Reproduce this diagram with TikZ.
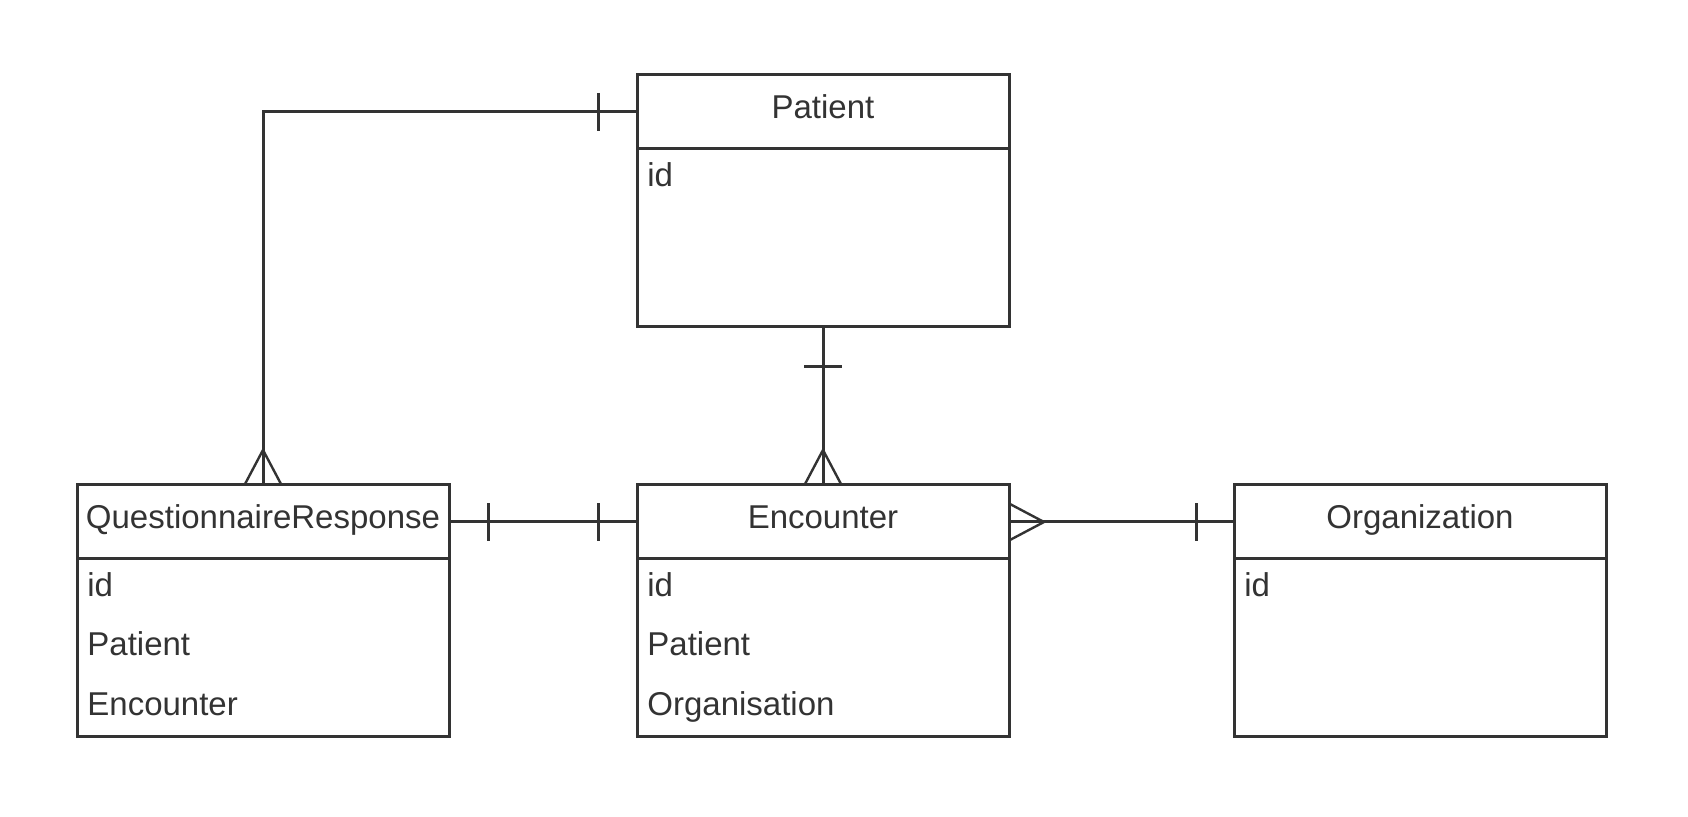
\documentclass[tikz,border=0pt]{standalone}
\usepackage{fontspec}
\setmainfont{Liberation Sans}
\usepackage{xcolor}
\usepackage{tikz}
\usetikzlibrary{positioning, decorations.markings}

\definecolor{erline}{gray}{0.2}

\tikzset{
  entity/.style={draw=erline, line width=1.5pt, rectangle, minimum width=186pt, minimum height=37pt, outer sep=0pt, text=erline, text height=12pt, text depth=5.5pt, font=\fontsize{16.5pt}{20pt}\selectfont},
  entitybody/.style={draw=erline, line width=1.5pt, rectangle, minimum width=186pt, minimum height=89pt, outer sep=0pt},
  fields/.style={anchor=north west, align=left, inner xsep=5pt, inner ysep=6.5pt, text=erline, font=\fontsize{16.5pt}{29.75pt}\selectfont},
  link/.style={draw=erline, line width=1.5pt},
  one start/.style={postaction={decorate, decoration={markings, mark=at position #1 with {\draw[erline, line width=1.5pt] (0,-9.5pt) -- (0,9.5pt);}}}},
  one start/.default=19.5pt,
  one end/.style={postaction={decorate, decoration={markings, mark=at position -#1 with {\draw[erline, line width=1.5pt] (0,-9.5pt) -- (0,9.5pt);}}}},
  one end/.default=19.5pt,
  many start/.style={postaction={decorate, decoration={markings, mark=at position 0.1pt with {\draw[erline, line width=1.2pt] (-0.1pt,9.25pt) -- (17.4pt,0) -- (-0.1pt,-9.25pt);}}}},
  many end/.style={postaction={decorate, decoration={markings, mark=at position -0.1pt with {\draw[erline, line width=1.2pt] (0.1pt,9.25pt) -- (-17.4pt,0) -- (0.1pt,-9.25pt);}}}}
}

\begin{document}
\begin{tikzpicture}
    \useasboundingbox (0,0) rectangle (844pt,-408.5pt);

    % entities
    \node[entity] (patient) at (411.5pt,-56pt) {Patient};
    \node[entitybody, below=0pt of patient] (patientbody) {};
    \node[fields] (patientfields) at (patientbody.north west) {id};

    \node[entity, below=79pt of patientbody] (encounter) {Encounter};
    \node[entitybody, below=0pt of encounter] (encounterbody) {};
    \node[fields] (encounterfields) at (encounterbody.north west) {id\\Patient\\Organisation};

    \node[entity, left=94pt of encounter] (questionnaire) {QuestionnaireResponse};
    \node[entitybody, below=0pt of questionnaire] (questionnairebody) {};
    \node[fields] (questionnairefields) at (questionnairebody.north west) {id\\Patient\\Encounter};

    \node[entity, right=112.5pt of encounter] (organization) {Organization};
    \node[entitybody, below=0pt of organization] (organizationbody) {};
    \node[fields] (organizationfields) at (organizationbody.north west) {id};

    % relations
    \draw[link, one start, many end] (patient.west) -| (questionnaire.north);
    \draw[link, one start=20pt, many end] (patientbody.south) -- (encounter.north);
    \draw[link, one start, one end] (questionnaire.east) -- (encounter.west);
    \draw[link, many start, one end=19pt] (encounter.east) -- (organization.west);
\end{tikzpicture}
\end{document}
